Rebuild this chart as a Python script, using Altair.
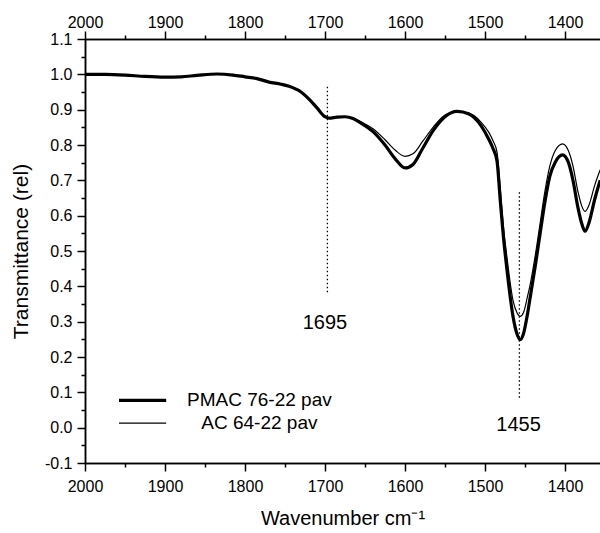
import altair as alt
import pandas as pd

FONT = "Liberation Sans"

# ---- data ----
wn = [2000, 1975, 1950, 1925, 1900, 1880, 1860, 1835, 1815, 1800, 1785, 1770,
      1755, 1745, 1730, 1720, 1710, 1700, 1695, 1685, 1675, 1665, 1655, 1640,
      1625, 1612, 1600, 1590, 1578, 1565, 1550, 1535, 1520, 1505, 1495, 1490,
      1485, 1481, 1477, 1473, 1465, 1460, 1456, 1452, 1447, 1444, 1437, 1431,
      1425, 1419, 1412, 1403, 1396, 1390, 1384, 1379, 1375, 1370, 1363, 1356]

pmac = [1.000, 1.000, 0.998, 0.994, 0.992, 0.993, 0.997, 1.001, 0.998, 0.993, 0.988, 0.978,
        0.972, 0.966, 0.950, 0.930, 0.905, 0.880, 0.876, 0.879, 0.880, 0.875, 0.862, 0.838,
        0.800, 0.760, 0.735, 0.745, 0.790, 0.840, 0.880, 0.895, 0.888, 0.855, 0.815, 0.790,
        0.755, 0.645, 0.540, 0.456, 0.315, 0.265, 0.249, 0.265, 0.320, 0.362, 0.460, 0.551,
        0.640, 0.711, 0.752, 0.772, 0.752, 0.700, 0.625, 0.577, 0.556, 0.580, 0.645, 0.700]

ac = [1.000, 1.000, 0.998, 0.994, 0.992, 0.993, 0.997, 1.001, 0.998, 0.993, 0.988, 0.978,
      0.972, 0.966, 0.950, 0.930, 0.905, 0.880, 0.876, 0.879, 0.880, 0.876, 0.866, 0.846,
      0.815, 0.785, 0.768, 0.775, 0.810, 0.850, 0.885, 0.895, 0.890, 0.865, 0.835, 0.812,
      0.780, 0.680, 0.570, 0.490, 0.360, 0.325, 0.315, 0.325, 0.370, 0.400, 0.490, 0.580,
      0.670, 0.740, 0.785, 0.803, 0.785, 0.740, 0.670, 0.627, 0.612, 0.630, 0.685, 0.730]

series_names = ["PMAC 76-22 pav", "AC 64-22 pav"]

peak_labels = ["1695", "1455"]
peak_wn = [1697, 1457]
peak_top = [0.968, 0.673]
peak_bottom = [0.383, 0.085]
peak_label_x = [1700, 1458]
peak_label_y = [0.297, 0.008]

x_major = [2000, 1900, 1800, 1700, 1600, 1500, 1400]
x_minor = [1950, 1850, 1750, 1650, 1550, 1450]
y_major = [-0.1, 0.0, 0.1, 0.2, 0.3, 0.4, 0.5, 0.6, 0.7, 0.8, 0.9, 1.0, 1.1]
y_minor = [-0.05, 0.05, 0.15, 0.25, 0.35, 0.45, 0.55, 0.65, 0.75, 0.85, 0.95, 1.05]

# ---- tables ----
df_thick = pd.DataFrame({"wn": wn, "t": pmac, "series": series_names[0]})
df_thin = pd.DataFrame({"wn": wn, "t": ac, "series": series_names[1]})
df_peaks = pd.DataFrame({"label": peak_labels, "wn": peak_wn, "top": peak_top,
                         "bottom": peak_bottom, "lx": peak_label_x, "ly": peak_label_y})
df_leg = pd.DataFrame({"name": series_names,
                       "x1": [1957.5, 1957.5], "x2": [1898.5, 1898.5],
                       "y": [0.077, 0.013], "tx": [1782, 1782],
                       "w": [3.3, 1.2]})

xs = alt.Scale(domain=[1356.25, 2000], reverse=True, nice=False, zero=False)
ys = alt.Scale(domain=[-0.1, 1.1], nice=False, zero=False)

common = dict(grid=False, domainColor="black", tickColor="black", labelColor="black",
              titleColor="black", domainWidth=1.5, tickWidth=1.5,
              labelFont=FONT, titleFont=FONT)

ax_bottom = alt.Axis(orient="bottom", values=x_major, tickSize=8, labelFontSize=16,
                     labelPadding=7, format="d", labelFlush=False, labelOverlap=False,
                     title="Wavenumber cm⁻¹", titleFontSize=20, titleFontWeight="normal",
                     titlePadding=14, **common)
ax_top = alt.Axis(orient="top", values=x_major, tickSize=8, labelFontSize=16,
                  labelPadding=1, format="d", labelFlush=False, labelOverlap=False,
                  title="", **common)
ax_bottom_minor = alt.Axis(orient="bottom", values=x_minor, tickSize=4, labels=False,
                           title="", **common)
ax_top_minor = alt.Axis(orient="top", values=x_minor, tickSize=4, labels=False,
                        title="", **common)
ax_left = alt.Axis(orient="left", values=y_major, tickSize=8, labelFontSize=16,
                   labelPadding=5, labelFlush=False, labelOverlap=False,
                   labelExpr="datum.value < 0 ? '-' + format(-datum.value, '.1f') : format(datum.value, '.1f')",
                   title="Transmittance (rel)", titleFontSize=21, titleFontWeight="normal",
                   titlePadding=13, **common)
ax_left_minor = alt.Axis(orient="left", values=y_minor, tickSize=4, labels=False,
                         title="", **common)

thick = alt.Chart(df_thick).mark_line(color="black", strokeWidth=3.2, interpolate="monotone",
                                      clip=True).encode(
    x=alt.X("wn:Q", scale=xs, axis=ax_bottom),
    y=alt.Y("t:Q", scale=ys, axis=ax_left),
)
thin = alt.Chart(df_thin).mark_line(color="black", strokeWidth=1.2, interpolate="monotone",
                                    clip=True).encode(
    x=alt.X("wn:Q", scale=xs, axis=ax_top),
    y=alt.Y("t:Q", scale=ys, axis=ax_left_minor),
)
peaks = alt.Chart(df_peaks).mark_rule(color="black", strokeWidth=1.3,
                                      strokeDash=[1.5, 2.5]).encode(
    x=alt.X("wn:Q", scale=xs, axis=ax_bottom_minor),
    y=alt.Y("bottom:Q", scale=ys, axis=None),
    y2="top:Q",
)
peak_text = alt.Chart(df_peaks).mark_text(font=FONT, fontSize=20, color="black",
                                          align="center", baseline="middle").encode(
    x=alt.X("lx:Q", scale=xs, axis=ax_top_minor),
    y=alt.Y("ly:Q", scale=ys, axis=None),
    text="label:N",
)
leg_lines = alt.Chart(df_leg).mark_rule(color="black").encode(
    x=alt.X("x1:Q", scale=xs, axis=None),
    x2="x2:Q",
    y=alt.Y("y:Q", scale=ys, axis=None),
    strokeWidth=alt.StrokeWidth("w:Q", scale=None, legend=None),
)
leg_text = alt.Chart(df_leg).mark_text(font=FONT, fontSize=19, color="black",
                                       align="center", baseline="middle").encode(
    x=alt.X("tx:Q", scale=xs, axis=None),
    y=alt.Y("y:Q", scale=ys, axis=None),
    text="name:N",
)

chart = alt.layer(thick, thin, peaks, peak_text, leg_lines, leg_text).resolve_axis(
    x="independent", y="independent"
).properties(
    width=515, height=424,
    padding={"left": 85, "top": 39, "right": 0, "bottom": 70},
    autosize="none",
).configure_view(stroke=None).configure(font=FONT)

chart.save("out.html", embed_options={"renderer": "svg", "actions": False})
